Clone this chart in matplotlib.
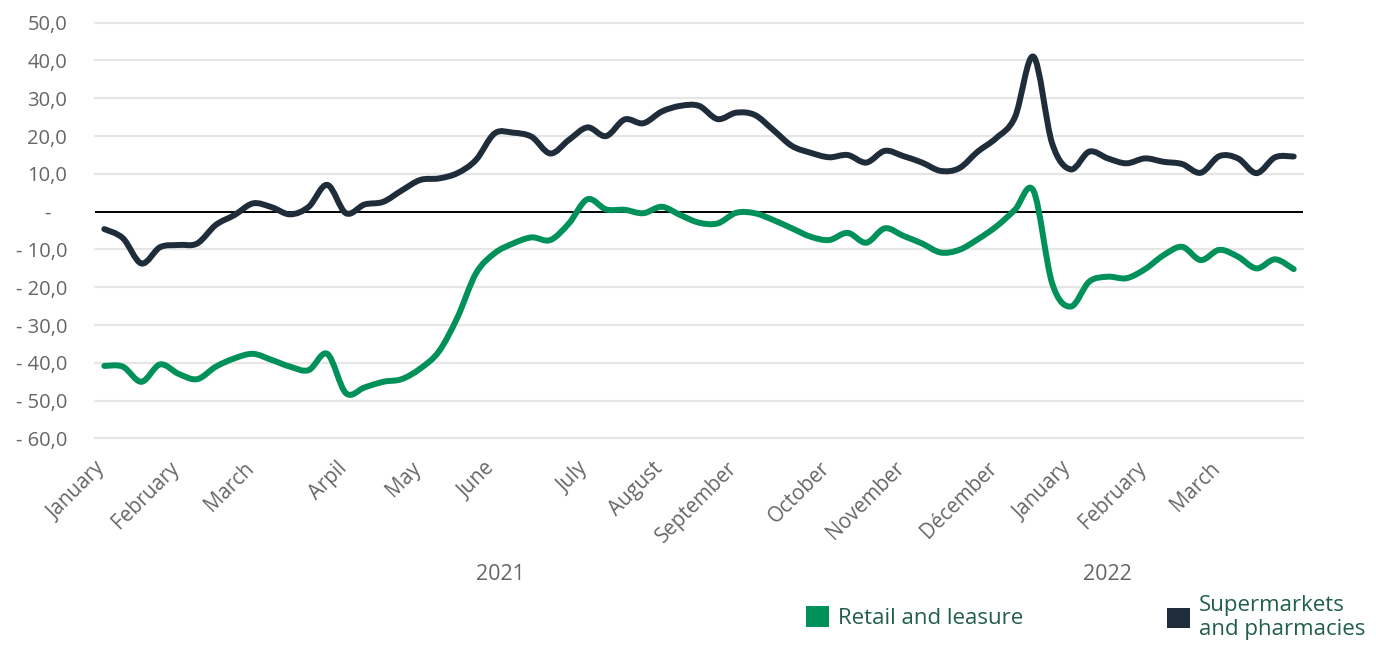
import numpy as np
import matplotlib
matplotlib.use("Agg")
import matplotlib.pyplot as plt
from matplotlib.path import Path
from matplotlib.patches import PathPatch, Patch
from matplotlib.ticker import FixedLocator, FuncFormatter
import matplotlib.transforms as mtransforms

# ---------------- data ----------------
retail = [-40.8, -41.0, -45.0, -40.4, -42.9, -44.3, -41.0, -38.8, -37.6, -39.2,
          -41.0, -41.9, -37.6, -48.0, -46.5, -45.0, -44.3, -41.5, -37.0, -28.0,
          -16.3, -11.0, -8.4, -6.8, -7.5, -3.1, 3.3, 0.6, 0.5, -0.4,
          1.3, -0.9, -2.9, -3.1, -0.3, -0.4, -2.2, -4.4, -6.6, -7.5,
          -5.6, -8.2, -4.4, -6.4, -8.4, -10.8, -10.1, -7.3, -3.9, 0.5,
          5.5, -18.9, -25.1, -18.5, -17.2, -17.6, -15.2, -11.5, -9.3, -12.8,
          -10.1, -11.9, -15.0, -12.6, -15.2]
supermarkets = [-4.6, -7.0, -13.7, -9.4, -8.8, -8.4, -3.5, -0.9, 2.2, 1.2,
                -0.7, 1.3, 7.1, -0.4, 1.9, 2.6, 5.6, 8.4, 8.8, 10.2,
                13.7, 20.7, 20.9, 19.8, 15.4, 19.0, 22.3, 20.0, 24.4, 23.4,
                26.5, 28.0, 28.0, 24.5, 26.2, 25.6, 21.6, 17.4, 15.6, 14.4,
                15.0, 13.0, 16.1, 14.7, 13.0, 10.8, 11.5, 15.9, 19.5, 25.0,
                41.0, 18.1, 11.2, 15.9, 14.1, 12.8, 14.1, 13.2, 12.6, 10.3,
                14.7, 14.1, 10.2, 14.4, 14.6]
month_labels = ["January", "February", "March", "Arpil", "May", "June", "July",
                "August", "September", "October", "November", "Décember",
                "January", "February", "March"]
month_week_index = [0, 4, 8, 13, 17, 21, 26, 30, 34, 39, 43, 48, 52, 56, 60]
year_labels = ["2021", "2022"]
year_positions = [21.3, 54.0]
series_names = ["Retail and leasure", "Supermarkets\nand pharmacies"]
y_ticks = [50, 40, 30, 20, 10, 0, -10, -20, -30, -40, -50, -60]

GREEN = "#00905A"
DARK = "#1F2D3B"
GRAY = "#666666"
LEGTXT = "#215E4C"

plt.rcParams['font.family'] = ['Open Sans', 'DejaVu Sans']

fig = plt.figure(figsize=(13.76, 6.46), dpi=100)
ax = fig.add_axes([95/1376, 1-438.5/646, (1303-95)/1376, (438.5-22.7)/646])
ax.set_xlim(-0.5, len(retail) - 0.5)
ax.set_ylim(-60, 50)


def smooth_path(xs, ys, tension=1/6):
    xs = np.asarray(xs, float)
    ys = np.asarray(ys, float)
    n = len(xs)
    verts = [(xs[0], ys[0])]
    codes = [Path.MOVETO]
    for i in range(n - 1):
        i0 = max(i - 1, 0)
        i3 = min(i + 2, n - 1)
        c1 = (xs[i] + (xs[i+1] - xs[i0]) * tension, ys[i] + (ys[i+1] - ys[i0]) * tension)
        c2 = (xs[i+1] - (xs[i3] - xs[i]) * tension, ys[i+1] - (ys[i3] - ys[i]) * tension)
        verts += [c1, c2, (xs[i+1], ys[i+1])]
        codes += [Path.CURVE4] * 3
    return Path(verts, codes)


# gridlines
for v in y_ticks:
    if v == 0:
        continue
    ax.axhline(v, color="#E6E6E6", lw=1.6, zorder=0, clip_on=False)
ax.axhline(0, color="black", lw=1.4, zorder=1)

x = np.arange(len(retail))
for ys, col in [(retail, GREEN), (supermarkets, DARK)]:
    p = PathPatch(smooth_path(x, ys), facecolor="none", edgecolor=col, lw=4.3,
                  capstyle="round", joinstyle="round", zorder=3,
                  transform=ax.transData)
    ax.add_patch(p)

for s in ax.spines.values():
    s.set_visible(False)


def yfmt(v, pos):
    if abs(v) < 1e-9:
        return "-   "
    s = f"{abs(v):.1f}".replace(".", ",")
    return s if v > 0 else "- " + s


ax.yaxis.set_major_locator(FixedLocator(y_ticks))
ax.yaxis.set_major_formatter(FuncFormatter(yfmt))
ax.tick_params(axis="y", length=0, pad=20, labelsize=14.5, labelcolor=GRAY)

ax.set_xticks(month_week_index)
ax.set_xticklabels(month_labels, rotation=45, ha="right", rotation_mode="default")
ax.tick_params(axis="x", length=0, pad=14, labelsize=14.8, labelcolor=GRAY)
shift = mtransforms.ScaledTranslation(5/100, 0, fig.dpi_scale_trans)
for lab in ax.get_xticklabels():
    lab.set_transform(lab.get_transform() + shift)

trans = mtransforms.blended_transform_factory(ax.transData, fig.transFigure)
for lab, xp in zip(year_labels, year_positions):
    ax.text(xp, 1 - 575/646, lab, transform=trans, ha="center", va="center",
            fontsize=15.5, color=GRAY)

# legend
leg_font = ['Open Sans', 'DejaVu Sans']
for name, col, xpos in [(series_names[0], GREEN, 806), (series_names[1], DARK, 1167)]:
    lg = fig.legend(handles=[Patch(facecolor=col, edgecolor="none")], labels=[name],
                    loc="center left", bbox_to_anchor=(xpos/1376, 1 - 617.5/646),
                    frameon=False, borderpad=0, borderaxespad=0,
                    handlelength=1.05, handleheight=1.05, handletextpad=0.4,
                    prop={"family": leg_font, "size": 16}, labelcolor=LEGTXT)

fig.savefig("out.png", dpi=100)
